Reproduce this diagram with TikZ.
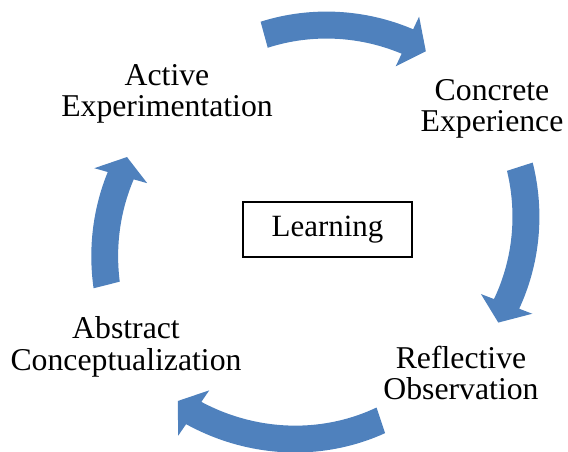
\documentclass[tikz,border=0pt]{standalone}
\usepackage{fontspec}
\setmainfont{Liberation Serif}
\usepackage{tikz}
\definecolor{cycleblue}{HTML}{4F81BD}
\tikzstyle{stage} = [align=center, text centered, inner sep=0pt, font=\fontsize{23.8}{23.6}\selectfont]
\tikzstyle{hub} = [rectangle, draw=black, line width=0.8pt, minimum width=126.75pt, minimum height=41.25pt, text centered, font=\fontsize{23.2}{23.8}\selectfont]
\tikzstyle{band} = [fill=cycleblue, draw=none]
% tail angle, tail radius, head angle, head radius, tip angle
\newcommand{\cyclearrow}[5]{%
  \fill[band] plot[domain=#1:#3, samples=40] (\x:{#2+(#4-(#2))*(\x-(#1))/(#3-(#1))+13.5})
    -- (#3:{#4+27.5}) -- (#5:#4) -- (#3:{#4-27.5})
    -- plot[domain=#3:#1, samples=40] (\x:{#2+(#4-(#2))*(\x-(#1))/(#3-(#1))-13.5}) -- cycle;}

\begin{document}
\begin{tikzpicture}[x=0.75pt, y=0.75pt]
	\useasboundingbox (0,0) rectangle (568,451);
	\coordinate (ring) at (318,219.5);
	\begin{scope}[shift={(ring)}]
		\cyclearrow{105.3}{204}{64.8}{210}{59.1}
		\cyclearrow{17.8}{212}{-21}{202}{-26.8}
		\cyclearrow{-71.6}{199}{-124.4}{220}{-129.6}
		\cyclearrow{194.2}{218}{164.2}{205}{158.7}
	\end{scope}
	\node (learn) [hub] at (327.5,221.5) {Learning};
	\node (concrete) [stage] at (492,342) {Concrete\\Experience};
	\node (reflect) [stage] at (461,78) {Reflective\\Observation};
	\node (abstract) [stage] at (126,104) {Abstract\\Conceptualization};
	\node (active) [stage] at (167,357) {Active\\Experimentation};
\end{tikzpicture}
\end{document}
